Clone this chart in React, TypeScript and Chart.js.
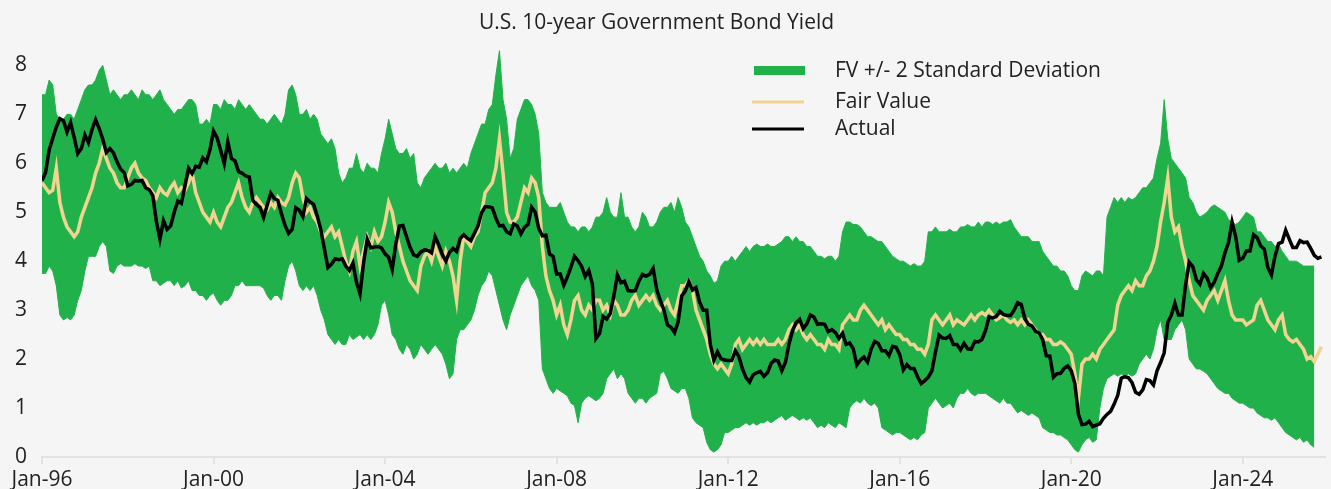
import React, { useEffect, useRef } from 'react';
import { Chart, registerables } from 'chart.js';

Chart.register(...registerables);

// ---------- text ----------
const TITLE = 'U.S. 10-year Government Bond Yield';
const legendLabels = ['FV +/- 2 Standard Deviation', 'Fair Value', 'Actual'];
const xTickMonths = [0, 48, 96, 144, 192, 240, 288, 336];
const xTickLabels = ['Jan-96', 'Jan-00', 'Jan-04', 'Jan-08', 'Jan-12', 'Jan-16', 'Jan-20', 'Jan-24'];
const yTickValues = [0, 1, 2, 3, 4, 5, 6, 7, 8];

// ---------- data: monthly, Jan-96 onward (index = months since Jan-96) ----------
const actual = [
  5.65, 5.81, 6.27, 6.51, 6.74, 6.91, 6.87, 6.64, 6.83, 6.53, 6.2, 6.3, // 1996
  6.58, 6.42, 6.69, 6.89, 6.71, 6.49, 6.22, 6.3, 6.21, 6.03, 5.88, 5.81, // 1997
  5.54, 5.57, 5.65, 5.64, 5.65, 5.5, 5.46, 5.34, 4.81, 4.45, 4.83, 4.65, // 1998
  4.72, 5.0, 5.23, 5.18, 5.54, 5.9, 5.79, 5.94, 5.92, 6.11, 6.03, 6.28, // 1999
  6.66, 6.52, 6.26, 5.99, 6.44, 6.1, 6.05, 5.83, 5.8, 5.74, 5.72, 5.24, // 2000
  5.16, 5.1, 4.89, 5.14, 5.39, 5.28, 5.24, 4.97, 4.73, 4.57, 4.65, 5.09, // 2001
  5.04, 4.91, 5.28, 5.21, 5.16, 4.93, 4.65, 4.26, 3.87, 3.94, 4.05, 4.03, // 2002
  4.05, 3.9, 3.81, 3.96, 3.57, 3.33, 3.98, 4.45, 4.27, 4.29, 4.3, 4.27, // 2003
  4.15, 4.08, 3.83, 4.35, 4.72, 4.73, 4.5, 4.28, 4.13, 4.1, 4.19, 4.23, // 2004
  4.22, 4.17, 4.5, 4.34, 4.14, 4.0, 4.18, 4.26, 4.2, 4.46, 4.54, 4.47, // 2005
  4.42, 4.57, 4.72, 4.99, 5.11, 5.11, 5.09, 4.88, 4.72, 4.73, 4.6, 4.56, // 2006
  4.76, 4.72, 4.56, 4.69, 4.75, 5.1, 5.0, 4.67, 4.52, 4.53, 4.15, 4.1, // 2007
  3.74, 3.74, 3.51, 3.68, 3.88, 4.1, 4.01, 3.89, 3.69, 3.81, 3.53, 2.42, // 2008
  2.52, 2.87, 2.82, 2.93, 3.29, 3.72, 3.56, 3.59, 3.4, 3.39, 3.4, 3.59, // 2009
  3.73, 3.69, 3.73, 3.85, 3.42, 3.2, 3.01, 2.7, 2.65, 2.54, 2.76, 3.29, // 2010
  3.39, 3.58, 3.41, 3.46, 3.17, 3.0, 3.0, 2.3, 1.98, 2.15, 2.01, 1.98, // 2011
  1.97, 1.97, 2.17, 2.05, 1.8, 1.62, 1.53, 1.68, 1.72, 1.75, 1.65, 1.72, // 2012
  1.91, 1.98, 1.96, 1.76, 1.93, 2.3, 2.58, 2.74, 2.81, 2.62, 2.72, 2.9, // 2013
  2.86, 2.71, 2.72, 2.71, 2.56, 2.6, 2.54, 2.42, 2.53, 2.3, 2.33, 2.21, // 2014
  1.88, 1.98, 2.04, 1.94, 2.2, 2.36, 2.32, 2.17, 2.17, 2.07, 2.26, 2.24, // 2015
  2.09, 1.78, 1.89, 1.81, 1.81, 1.64, 1.5, 1.56, 1.63, 1.76, 2.14, 2.49, // 2016
  2.43, 2.42, 2.48, 2.3, 2.3, 2.19, 2.32, 2.21, 2.2, 2.36, 2.35, 2.4, // 2017
  2.58, 2.86, 2.84, 2.87, 2.98, 2.91, 2.89, 2.89, 3.0, 3.15, 3.12, 2.83, // 2018
  2.71, 2.68, 2.57, 2.53, 2.4, 2.07, 2.06, 1.63, 1.7, 1.71, 1.81, 1.86, // 2019
  1.76, 1.5, 0.87, 0.66, 0.67, 0.73, 0.62, 0.65, 0.68, 0.79, 0.87, 0.93, // 2020
  1.08, 1.26, 1.61, 1.64, 1.62, 1.52, 1.32, 1.28, 1.37, 1.58, 1.56, 1.47, // 2021
  1.76, 1.93, 2.13, 2.75, 2.9, 3.14, 2.9, 2.9, 3.52, 3.98, 3.89, 3.62, // 2022
  3.53, 3.75, 3.66, 3.46, 3.57, 3.75, 3.9, 4.17, 4.38, 4.8, 4.5, 4.02, // 2023
  4.06, 4.21, 4.21, 4.54, 4.48, 4.31, 4.25, 3.87, 3.72, 4.1, 4.36, 4.39, // 2024
  4.63, 4.45, 4.28, 4.28, 4.42, 4.38, 4.39, 4.26, 4.12, 4.06, 4.09, // 2025
];

const fairValue = [
  5.6, 5.5, 5.4, 5.45, 5.9, 5.2, 4.9, 4.7, 4.6, 4.5, 4.6, 4.9, // 1996
  5.1, 5.3, 5.5, 5.8, 6.0, 6.3, 6.1, 5.9, 5.8, 5.6, 5.5, 5.5, // 1997
  5.7, 5.9, 6.0, 5.8, 5.7, 5.65, 5.5, 5.4, 5.3, 5.5, 5.4, 5.35, // 1998
  5.5, 5.6, 5.4, 5.5, 5.45, 5.6, 5.8, 5.4, 5.2, 5.0, 4.9, 4.8, // 1999
  5.0, 4.8, 4.7, 4.9, 5.1, 5.2, 5.4, 5.6, 5.3, 5.1, 5.0, 5.2, // 2000
  5.3, 5.2, 5.1, 5.05, 5.2, 5.1, 5.3, 5.2, 5.15, 5.3, 5.6, 5.8, // 2001
  5.7, 5.3, 5.0, 5.1, 4.9, 4.8, 4.6, 4.5, 4.6, 4.7, 4.5, 4.6, // 2002
  4.3, 4.0, 3.8, 4.2, 4.4, 3.9, 4.2, 4.5, 4.3, 4.6, 4.4, 4.5, // 2003
  4.8, 5.2, 5.0, 4.6, 4.3, 4.0, 3.8, 3.6, 3.5, 3.4, 3.9, 4.1, // 2004
  4.2, 4.0, 4.3, 4.1, 3.9, 4.2, 4.0, 3.7, 3.2, 4.0, 4.5, 4.4, // 2005
  4.3, 4.5, 4.6, 5.0, 5.4, 5.5, 5.6, 5.9, 6.5, 5.8, 5.0, 4.8, // 2006
  4.8, 4.9, 5.2, 5.5, 5.4, 5.7, 5.6, 5.3, 4.3, 3.7, 3.4, 3.2, // 2007
  2.9, 3.1, 2.7, 2.5, 2.8, 3.2, 3.3, 3.0, 2.9, 3.1, 3.0, 3.2, // 2008
  3.2, 3.0, 3.1, 2.9, 3.2, 3.1, 2.9, 2.9, 3.0, 3.2, 3.3, 3.1, // 2009
  3.2, 3.3, 3.2, 3.3, 3.1, 3.0, 3.1, 3.2, 3.0, 2.9, 3.2, 3.5, // 2010
  3.5, 3.6, 3.4, 3.0, 2.8, 2.6, 2.4, 2.1, 1.9, 1.8, 1.9, 1.8, // 2011
  1.7, 1.9, 2.3, 2.4, 2.2, 2.3, 2.4, 2.3, 2.4, 2.3, 2.4, 2.3, // 2012
  2.3, 2.3, 2.4, 2.3, 2.4, 2.6, 2.7, 2.6, 2.7, 2.5, 2.4, 2.5, // 2013
  2.4, 2.3, 2.3, 2.2, 2.4, 2.3, 2.3, 2.2, 2.7, 2.8, 2.9, 2.8, // 2014
  2.8, 3.0, 3.1, 3.0, 2.9, 2.8, 2.7, 2.8, 2.6, 2.7, 2.6, 2.5, // 2015
  2.5, 2.4, 2.4, 2.3, 2.3, 2.2, 2.2, 2.1, 2.3, 2.8, 2.9, 2.8, // 2016
  2.7, 2.8, 2.9, 2.7, 2.8, 2.75, 2.7, 2.8, 2.9, 2.8, 2.9, 2.95, // 2017
  2.9, 3.0, 2.9, 2.8, 2.85, 2.9, 2.8, 2.75, 2.8, 2.7, 2.8, 2.7, // 2018
  2.8, 2.7, 2.6, 2.5, 2.5, 2.4, 2.4, 2.3, 2.3, 2.35, 2.3, 2.2, // 2019
  2.1, 1.7, 1.2, 1.9, 2.0, 2.0, 2.1, 2.0, 2.2, 2.3, 2.4, 2.5, // 2020
  2.6, 3.1, 3.3, 3.4, 3.5, 3.4, 3.6, 3.5, 3.5, 3.7, 3.8, 4.0, // 2021
  4.3, 4.8, 5.2, 5.7, 4.9, 4.6, 4.7, 4.3, 4.0, 3.6, 3.3, 3.2, // 2022
  3.1, 3.0, 3.2, 3.3, 3.4, 3.2, 3.4, 3.6, 3.2, 2.9, 2.8, 2.8, // 2023
  2.8, 2.7, 2.75, 2.8, 3.1, 3.2, 3.0, 2.8, 2.7, 2.6, 2.8, 2.9, // 2024
  2.5, 2.4, 2.35, 2.4, 2.3, 2.2, 2.0, 2.05, 1.95, 2.1, 2.25, // 2025
];

const bandUpper = [
  7.4, 7.4, 7.7, 7.6, 7.0, 6.9, 6.9, 7.0, 7.0, 6.9, 7.1, 7.3, // 1996
  7.5, 7.6, 7.6, 7.7, 7.9, 8.0, 7.7, 7.4, 7.5, 7.4, 7.3, 7.4, // 1997
  7.4, 7.5, 7.4, 7.3, 7.5, 7.4, 7.4, 7.3, 7.4, 7.5, 7.3, 7.2, // 1998
  7.1, 7.0, 7.1, 7.1, 7.2, 7.3, 7.3, 7.2, 6.8, 6.8, 6.9, 6.8, // 1999
  7.2, 7.2, 7.1, 7.3, 7.2, 7.2, 7.1, 7.3, 7.2, 7.1, 7.2, 7.1, // 2000
  7.0, 6.9, 6.9, 6.8, 6.9, 7.0, 6.9, 6.8, 7.0, 7.5, 7.6, 7.4, // 2001
  7.0, 7.0, 7.1, 6.9, 7.0, 6.9, 6.6, 6.5, 6.4, 6.5, 6.3, 5.8, // 2002
  5.6, 5.7, 5.9, 5.9, 6.2, 5.9, 5.8, 6.0, 5.9, 5.9, 5.8, 6.2, // 2003
  6.5, 6.9, 6.6, 6.3, 6.2, 6.2, 6.3, 6.1, 6.2, 5.6, 5.5, 5.7, // 2004
  5.8, 5.9, 6.0, 5.9, 5.9, 6.0, 5.8, 5.9, 5.8, 5.9, 6.0, 5.9, // 2005
  6.2, 6.4, 6.6, 6.8, 6.8, 7.1, 7.2, 7.8, 8.3, 7.3, 6.9, 6.1, // 2006
  6.3, 6.9, 7.1, 7.3, 7.3, 7.2, 7.0, 6.6, 5.4, 5.2, 5.1, 5.1, // 2007
  5.1, 5.2, 5.0, 4.8, 4.7, 4.7, 4.6, 4.7, 4.7, 4.6, 4.7, 4.9, // 2008
  4.9, 5.0, 5.3, 5.0, 4.9, 4.9, 5.4, 4.9, 4.9, 4.7, 4.6, 4.7, // 2009
  5.0, 4.9, 4.7, 4.7, 4.8, 5.0, 5.1, 5.1, 5.2, 5.0, 5.3, 5.1, // 2010
  4.8, 4.7, 4.5, 4.3, 4.1, 4.0, 3.8, 3.7, 3.55, 3.6, 3.9, 4.0, // 2011
  4.0, 4.1, 4.0, 4.1, 4.2, 4.3, 4.2, 4.3, 4.35, 4.3, 4.3, 4.35, // 2012
  4.3, 4.3, 4.35, 4.4, 4.5, 4.5, 4.4, 4.5, 4.4, 4.4, 4.3, 4.3, // 2013
  4.2, 4.1, 4.1, 4.05, 4.1, 4.1, 4.0, 4.1, 4.6, 4.8, 4.8, 4.75, // 2014
  4.75, 4.7, 4.6, 4.5, 4.5, 4.45, 4.4, 4.4, 4.3, 4.2, 4.1, 4.05, // 2015
  4.0, 4.0, 3.95, 3.9, 3.95, 3.9, 3.9, 4.0, 4.6, 4.6, 4.7, 4.6, // 2016
  4.6, 4.6, 4.65, 4.6, 4.6, 4.7, 4.7, 4.75, 4.7, 4.7, 4.8, 4.7, // 2017
  4.8, 4.8, 4.75, 4.8, 4.75, 4.8, 4.8, 4.85, 4.7, 4.6, 4.5, 4.5, // 2018
  4.5, 4.4, 4.4, 4.4, 4.2, 4.1, 4.0, 3.9, 3.9, 3.8, 3.8, 3.7, // 2019
  3.5, 3.4, 3.4, 3.7, 3.8, 3.75, 3.7, 3.8, 3.8, 3.7, 4.9, 5.1, // 2020
  5.3, 5.2, 5.3, 5.2, 5.3, 5.25, 5.3, 5.4, 5.5, 5.5, 5.6, 5.7, // 2021
  6.1, 6.4, 7.3, 6.5, 6.1, 6.0, 5.9, 5.8, 5.7, 5.3, 5.2, 5.0, // 2022
  4.9, 4.95, 5.0, 5.1, 5.15, 5.1, 5.05, 5.0, 4.85, 4.8, 4.75, 4.8, // 2023
  4.9, 5.0, 4.95, 4.9, 4.6, 4.6, 4.5, 4.4, 4.4, 4.3, 4.35, 4.2, // 2024
  4.1, 4.0, 4.0, 4.0, 3.95, 3.9, 3.9, 3.9, 3.9, // 2025
];

const bandLower = [
  3.75, 3.75, 3.9, 3.8, 3.5, 2.9, 2.8, 2.85, 2.8, 2.9, 3.2, 3.4, // 1996
  3.8, 4.1, 4.1, 4.1, 4.3, 4.4, 4.3, 3.8, 3.75, 3.9, 3.95, 3.9, // 1997
  3.9, 3.9, 3.95, 3.9, 3.9, 3.85, 3.9, 3.6, 3.6, 3.5, 3.55, 3.6, // 1998
  3.6, 3.5, 3.6, 3.45, 3.5, 3.6, 3.4, 3.4, 3.3, 3.3, 3.2, 3.3, // 1999
  3.35, 3.2, 3.1, 3.2, 3.2, 3.3, 3.5, 3.5, 3.6, 3.5, 3.5, 3.5, // 2000
  3.5, 3.5, 3.45, 3.3, 3.2, 3.3, 3.3, 3.2, 3.6, 3.9, 4.0, 3.8, // 2001
  3.5, 3.4, 3.5, 3.4, 3.5, 3.3, 3.0, 2.8, 2.5, 2.4, 2.3, 2.4, // 2002
  2.3, 2.3, 2.5, 2.4, 2.45, 2.5, 2.4, 2.5, 2.4, 2.5, 2.7, 3.1, // 2003
  3.2, 2.9, 2.5, 2.4, 2.2, 2.1, 2.3, 2.2, 2.0, 2.1, 2.3, 2.2, // 2004
  2.1, 2.2, 2.3, 2.2, 2.1, 1.9, 1.6, 1.7, 2.4, 2.6, 2.6, 2.7, // 2005
  2.8, 3.0, 3.3, 3.5, 3.6, 3.8, 3.7, 3.4, 3.1, 2.8, 2.6, 2.9, // 2006
  3.1, 3.3, 3.5, 3.6, 3.7, 3.5, 3.4, 3.2, 1.8, 1.6, 1.4, 1.3, // 2007
  1.4, 1.35, 1.3, 1.25, 1.1, 1.05, 0.7, 1.1, 1.2, 1.25, 1.2, 1.15, // 2008
  1.2, 1.3, 1.6, 1.7, 1.8, 1.6, 1.7, 1.6, 1.3, 1.2, 1.1, 1.2, // 2009
  1.2, 1.1, 1.2, 1.25, 1.3, 1.7, 1.75, 1.6, 1.4, 1.35, 1.3, 1.4, // 2010
  1.4, 1.2, 0.8, 0.7, 0.65, 0.6, 0.3, 0.15, 0.1, 0.15, 0.25, 0.5, // 2011
  0.5, 0.55, 0.6, 0.6, 0.65, 0.7, 0.65, 0.7, 0.65, 0.7, 0.7, 0.75, // 2012
  0.7, 0.75, 0.8, 0.85, 0.75, 0.8, 0.85, 0.8, 0.75, 0.8, 0.75, 0.8, // 2013
  0.7, 0.6, 0.65, 0.6, 0.7, 0.65, 0.6, 0.7, 0.65, 0.6, 1.0, 1.1, // 2014
  1.15, 1.1, 1.2, 1.1, 1.05, 1.1, 1.0, 0.6, 0.55, 0.5, 0.45, 0.5, // 2015
  0.5, 0.45, 0.4, 0.35, 0.4, 0.35, 0.45, 0.5, 1.0, 1.1, 1.2, 1.1, // 2016
  1.0, 1.05, 1.1, 1.0, 1.2, 1.3, 1.3, 1.4, 1.3, 1.25, 1.3, 1.3, // 2017
  1.3, 1.25, 1.2, 1.15, 1.1, 1.2, 1.1, 1.1, 1.0, 0.9, 0.95, 0.9, // 2018
  0.85, 0.9, 0.85, 0.8, 0.6, 0.55, 0.5, 0.5, 0.45, 0.45, 0.4, 0.35, // 2019
  0.25, 0.15, 0.1, 0.25, 0.35, 0.4, 0.3, 0.35, 1.0, 1.4, 1.6, 1.65, // 2020
  1.7, 1.65, 1.7, 1.65, 1.7, 1.65, 1.7, 1.9, 2.0, 2.1, 2.0, 2.2, // 2021
  2.6, 2.8, 2.4, 2.4, 2.4, 2.6, 2.7, 2.8, 2.6, 2.0, 1.9, 1.8, // 2022
  1.8, 1.75, 1.7, 1.6, 1.5, 1.4, 1.35, 1.3, 1.3, 1.2, 1.15, 1.1, // 2023
  1.1, 1.05, 1.0, 1.0, 0.9, 0.85, 0.8, 0.8, 0.75, 0.8, 0.7, 0.6, // 2024
  0.5, 0.45, 0.4, 0.35, 0.4, 0.3, 0.35, 0.25, 0.2, // 2025
];

// ---------- style ----------
const FONT = "'Open Sans', sans-serif";
const FONT_SIZE = 21;
const TEXT = '#222222';
const GREEN = '#21b14b';
const TAN = '#f2d491';
const AXIS = '#e2e2e2';
const BG = '#f5f5f5';
const W = 1331;
const H = 489;

const toPoints = (arr: number[]) => arr.map((y, i) => ({ x: i, y }));

const overlayPlugin = {
  id: 'titleAndLegend',
  afterDraw(chart: any) {
    const ctx = chart.ctx as CanvasRenderingContext2D;
    ctx.save();
    ctx.fillStyle = TEXT;
    ctx.font = `${FONT_SIZE}px ${FONT}`;
    ctx.textBaseline = 'middle';
    ctx.textAlign = 'center';
    ctx.fillText(TITLE, 656.5, 23);

    ctx.textAlign = 'left';
    // band swatch
    ctx.fillStyle = GREEN;
    ctx.fillRect(754, 66, 51, 9);
    // fair value swatch
    ctx.strokeStyle = TAN;
    ctx.lineWidth = 3;
    ctx.beginPath();
    ctx.moveTo(752, 102);
    ctx.lineTo(804, 102);
    ctx.stroke();
    // actual swatch
    ctx.strokeStyle = '#000';
    ctx.beginPath();
    ctx.moveTo(752, 129);
    ctx.lineTo(804, 129);
    ctx.stroke();

    ctx.fillStyle = TEXT;
    ctx.fillText(legendLabels[0], 835, 71);
    ctx.fillText(legendLabels[1], 835, 102);
    ctx.fillText(legendLabels[2], 835, 129);
    ctx.restore();
  },
};

export default function App() {
  const canvasRef = useRef<HTMLCanvasElement | null>(null);

  useEffect(() => {
    const canvas = canvasRef.current;
    if (!canvas) return;
    const chart = new Chart(canvas, {
      type: 'line',
      data: {
        datasets: [
          {
            label: legendLabels[2],
            data: toPoints(actual),
            borderColor: '#000000',
            borderWidth: 3.5,
            pointRadius: 0,
            fill: false,
            tension: 0,
          },
          {
            label: legendLabels[1],
            data: toPoints(fairValue),
            borderColor: TAN,
            borderWidth: 3.5,
            pointRadius: 0,
            fill: false,
            tension: 0,
          },
          {
            label: legendLabels[0],
            data: toPoints(bandUpper),
            borderColor: GREEN,
            backgroundColor: GREEN,
            borderWidth: 1,
            pointRadius: 0,
            fill: '+1',
            tension: 0,
          },
          {
            label: legendLabels[0] + ' (lower)',
            data: toPoints(bandLower),
            borderColor: GREEN,
            backgroundColor: GREEN,
            borderWidth: 1,
            pointRadius: 0,
            fill: false,
            tension: 0,
          },
        ],
      },
      options: {
        responsive: false,
        animation: false,
        devicePixelRatio: 1,
        layout: { padding: { top: 36, left: 0, right: 6, bottom: 0 } },
        plugins: {
          legend: { display: false },
          title: { display: false },
          tooltip: { enabled: false },
        },
        scales: {
          x: {
            type: 'linear',
            min: 0,
            max: 359,
            afterBuildTicks: (scale: any) => {
              scale.ticks = xTickMonths.map((v) => ({ value: v }));
            },
            afterFit: (scale: any) => {
              scale.height = H - 457;
            },
            ticks: {
              autoSkip: false,
              maxRotation: 0,
              padding: 3,
              color: TEXT,
              font: { family: FONT, size: FONT_SIZE },
              callback: (value: any) => {
                const i = xTickMonths.indexOf(Number(value));
                return i >= 0 ? xTickLabels[i] : '';
              },
            },
            grid: {
              drawOnChartArea: false,
              drawTicks: true,
              tickLength: 7,
              color: AXIS,
              lineWidth: 2,
            },
            border: { display: true, color: AXIS, width: 2 },
          },
          y: {
            type: 'linear',
            min: 0,
            max: 8.6,
            afterBuildTicks: (scale: any) => {
              scale.ticks = yTickValues.map((v) => ({ value: v }));
            },
            afterFit: (scale: any) => {
              scale.width = 42;
            },
            ticks: {
              padding: 15,
              color: TEXT,
              font: { family: FONT, size: FONT_SIZE },
            },
            grid: { display: false, drawTicks: false },
            border: { display: false },
          },
        },
      },
      plugins: [overlayPlugin],
    });
    return () => chart.destroy();
  }, []);

  return (
    <div
      style={{
        position: 'fixed',
        left: 0,
        top: 0,
        width: W,
        height: H,
        background: BG,
        overflow: 'hidden',
      }}
    >
      <canvas ref={canvasRef} width={W} height={H} style={{ display: 'block', width: W, height: H }} />
    </div>
  );
}
